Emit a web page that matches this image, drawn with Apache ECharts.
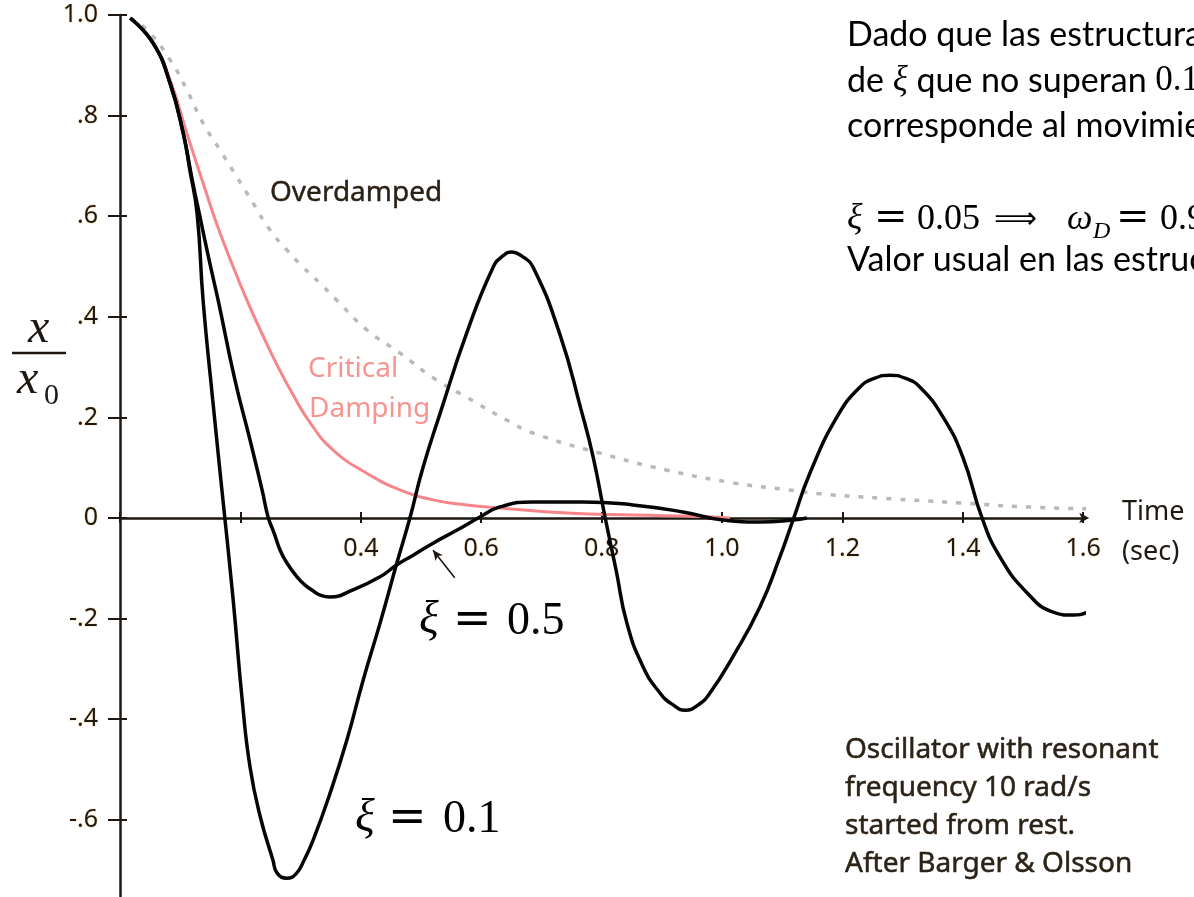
<!DOCTYPE html>
<html>
<head>
<meta charset="utf-8">
<title>Oscilador amortiguado</title>
<script src="https://cdn.jsdelivr.net/npm/echarts@6.0.0/dist/echarts.min.js"></script>
<style>
  html, body { margin: 0; padding: 0; background: #fff; }
  #chart { width: 1194px; height: 897px; }
</style>
</head>
<body>
<div id="chart"></div>
<script>
// curves as [time (s), x/x0]
const overdamped = [
  [0.017, 0.994], [0.045, 0.970], [0.083, 0.911], [0.111, 0.851], [0.138, 0.785],
  [0.166, 0.732], [0.194, 0.678], [0.221, 0.626], [0.249, 0.573], [0.277, 0.533],
  [0.304, 0.499], [0.332, 0.467], [0.360, 0.433], [0.410, 0.374], [0.465, 0.328],
  [0.520, 0.279], [0.576, 0.240], [0.642, 0.195], [0.686, 0.169], [0.797, 0.129],
  [0.909, 0.095], [1.018, 0.070], [1.110, 0.056], [1.163, 0.048], [1.284, 0.038],
  [1.395, 0.030], [1.507, 0.022], [1.611, 0.018]
];
const critical = [
  [0.017, 0.994], [0.055, 0.944], [0.085, 0.865], [0.111, 0.765], [0.138, 0.666],
  [0.166, 0.567], [0.208, 0.441], [0.233, 0.374], [0.261, 0.304], [0.287, 0.246],
  [0.316, 0.189], [0.354, 0.135], [0.410, 0.089], [0.465, 0.056], [0.520, 0.036],
  [0.576, 0.026], [0.631, 0.020], [0.743, 0.010], [0.852, 0.006], [0.963, 0.003],
  [1.013, 0.000]
];
const xi05 = [
  [0.017, 0.994], [0.055, 0.944], [0.083, 0.865], [0.105, 0.765], [0.121, 0.666],
  [0.133, 0.598], [0.148, 0.513], [0.163, 0.433], [0.191, 0.274], [0.216, 0.155],
  [0.236, 0.056], [0.246, 0.002], [0.256, -0.030], [0.266, -0.064], [0.277, -0.089],
  [0.294, -0.117], [0.307, -0.133], [0.321, -0.145], [0.332, -0.153], [0.349, -0.157],
  [0.387, -0.143], [0.432, -0.117], [0.460, -0.093], [0.487, -0.074], [0.520, -0.050],
  [0.560, -0.024], [0.598, 0.002], [0.631, 0.022], [0.686, 0.032], [0.769, 0.032],
  [0.852, 0.026], [0.935, 0.012], [1.002, -0.004], [1.063, -0.008], [1.118, -0.004],
  [1.141, 0.000]
];
const xi01 = [
  [0.017, 0.994], [0.055, 0.944], [0.083, 0.865], [0.105, 0.765], [0.116, 0.692],
  [0.128, 0.606], [0.138, 0.433], [0.154, 0.235], [0.171, 0.036], [0.188, -0.163],
  [0.203, -0.362], [0.216, -0.495], [0.233, -0.594], [0.254, -0.680], [0.261, -0.706],
  [0.277, -0.716], [0.292, -0.708], [0.306, -0.680], [0.321, -0.640], [0.349, -0.547],
  [0.377, -0.441], [0.404, -0.322], [0.432, -0.209], [0.460, -0.089], [0.482, 0.002],
  [0.502, 0.095], [0.532, 0.209], [0.576, 0.368], [0.620, 0.499], [0.636, 0.521],
  [0.651, 0.529], [0.667, 0.521], [0.686, 0.499], [0.731, 0.364], [0.766, 0.215],
  [0.786, 0.121], [0.806, 0.000], [0.824, -0.103], [0.842, -0.209], [0.869, -0.296],
  [0.897, -0.348], [0.917, -0.370], [0.939, -0.382], [0.960, -0.372], [0.980, -0.348],
  [1.018, -0.276], [1.063, -0.177], [1.096, -0.078], [1.118, -0.004], [1.146, 0.089],
  [1.191, 0.201], [1.229, 0.260], [1.254, 0.278], [1.279, 0.284], [1.304, 0.278],
  [1.329, 0.260], [1.367, 0.201], [1.400, 0.121], [1.432, 0.000], [1.462, -0.078],
  [1.507, -0.149], [1.550, -0.187], [1.583, -0.193], [1.608, -0.187], [1.633, -0.171],
  [1.656, -0.149]
];

// tick labels
const yTickValues = [-0.6, -0.4, -0.2, 0, 0.2, 0.4, 0.6, 0.8, 1.0];
const yTickText = ['-.6', '-.4', '-.2', '0', '.2', '.4', '.6', '.8', '1.0'];
const xHiddenLabels = [0, 0.2];

// little arrow pointing at the xi = 0.5 curve
const arrowFrom = [0.556, -0.119];
const arrowTo = [0.520, -0.064];

const ink = '#1d1813';
const halo = 'rgba(252, 222, 180, 0.7)';
const serif = '"Liberation Serif", "DejaVu Serif", serif';
const eqFont = '"DejaVu Serif", serif';
const sans = '"Noto Sans", "Open Sans", sans-serif';
const note = 'Lato, "Noto Sans", sans-serif';

// plot box: 1.0 sits at y=15, 0 at y=518
const gridTop = 15;
const gridHeight = 905.4;
const zeroY = 518;

const chart = echarts.init(document.getElementById('chart'));

function txt(text, x, y, font, fill, more) {
  return {
    type: 'text', x: x, y: y, silent: true,
    style: Object.assign({
      text: text, font: font, fill: fill || ink,
      align: 'left', textAlign: 'left', verticalAlign: 'middle', textVerticalAlign: 'middle'
    }, more || {})
  };
}

const axisLabelStyle = {
  fontFamily: sans, fontSize: 25, color: ink,
  textBorderColor: halo, textBorderWidth: 1.5
};

const lineBase = { type: 'line', showSymbol: false, smooth: 0.5, clip: false, silent: true };
const xOffset = zeroY - (gridTop + gridHeight);
const bold = { stroke: '#2b2218', lineWidth: 0.5 };

chart.setOption({
  animation: false,
  backgroundColor: '#fff',
  grid: { left: 120, top: gridTop, width: 963.2, height: gridHeight, containLabel: false, outerBoundsMode: 'none' },
  xAxis: [{
    type: 'value', position: 'bottom', offset: xOffset, min: 0, max: 1.6, interval: 0.2,
    axisLine: {
      onZero: false, lineStyle: { color: ink, width: 2.5 },
      symbol: ['none', 'arrow'], symbolSize: [8, 10], symbolOffset: [0, 6]
    },
    axisTick: { length: 5, lineStyle: { color: ink, width: 2 } },
    axisLabel: Object.assign({}, axisLabelStyle, {
      margin: 18,
      formatter: function (v) {
        return xHiddenLabels.some(function (h) { return Math.abs(h - v) < 1e-6; }) ? '' : v.toFixed(1);
      }
    }),
    splitLine: { show: false }
  }, {
    type: 'value', position: 'bottom', offset: xOffset, min: 0, max: 1.6, interval: 0.2,
    axisLine: { show: false, onZero: false },
    axisTick: { inside: true, length: 6, lineStyle: { color: ink, width: 2 } },
    axisLabel: { show: false },
    splitLine: { show: false }
  }],
  yAxis: [{
    type: 'value', position: 'left', min: -0.8, max: 1.0, interval: 0.2,
    axisLine: { show: true, onZero: false, lineStyle: { color: ink, width: 2.5 } },
    axisTick: { show: true, length: 12, lineStyle: { color: ink, width: 2 } },
    axisLabel: Object.assign({}, axisLabelStyle, {
      margin: 22,
      formatter: function (v) {
        const i = yTickValues.findIndex(function (t) { return Math.abs(t - v) < 1e-6; });
        return i < 0 ? '' : yTickText[i];
      }
    }),
    splitLine: { show: false }
  }, {
    type: 'value', position: 'left', min: -0.8, max: 1.0, interval: 0.2,
    axisLine: { show: false, onZero: false },
    axisTick: { show: true, inside: true, length: 7, lineStyle: { color: ink, width: 2 } },
    axisLabel: { show: false },
    splitLine: { show: false }
  }],
  series: [
    Object.assign({}, lineBase, {
      name: 'Overdamped', data: overdamped, z: 2,
      lineStyle: { color: '#b9b9b9', width: 3.5, type: [5, 9] }
    }),
    Object.assign({}, lineBase, {
      name: 'Critical Damping', data: critical, z: 3,
      lineStyle: { color: '#f6868a', width: 3 }
    }),
    Object.assign({}, lineBase, {
      name: 'ξ = 0.5', data: xi05, z: 4,
      lineStyle: { color: '#050505', width: 3.5 },
      markLine: {
        silent: true, symbol: ['none', 'arrow'], symbolSize: [7, 10],
        label: { show: false },
        lineStyle: { color: ink, width: 1.6, type: 'solid' },
        data: [[{ coord: arrowFrom }, { coord: arrowTo }]]
      }
    }),
    Object.assign({}, lineBase, {
      name: 'ξ = 0.1', data: xi01, z: 5,
      lineStyle: { color: '#050505', width: 3.5 }
    })
  ],
  graphic: [
    // x / x0 axis name
    txt('x', 28, 329, 'italic 48px ' + serif, ink),
    { type: 'line', silent: true, shape: { x1: 12, y1: 353, x2: 66, y2: 353 }, style: { stroke: ink, lineWidth: 2.5 } },
    txt('x', 17, 380, 'italic 48px ' + serif, ink),
    txt('0', 44, 396, '30px ' + serif, ink),

    // curve labels
    txt('Overdamped', 270, 193, '28px ' + sans, '#2a2016', { stroke: '#2a2016', lineWidth: 0.4 }),
    txt('Critical', 308, 369, '28px ' + sans, '#f7948f'),
    txt('Damping', 309, 409, '28px ' + sans, '#f7948f'),
    txt('ξ', 419, 621, 'italic 46px ' + serif, '#000'),
    txt('=', 453, 621, '46px ' + eqFont, '#000'),
    txt('0.5', 507, 622, '46px ' + serif, '#000'),
    txt('ξ', 355, 819, 'italic 46px ' + serif, '#000'),
    txt('=', 388, 819, '46px ' + eqFont, '#000'),
    txt('0.1', 443, 820, '46px ' + serif, '#000'),

    // axis end labels
    txt('Time', 1122, 512, '27px ' + sans, ink),
    txt('(sec)', 1122, 552, '27px ' + sans, ink),

    // notes on the right
    txt('Dado que las estructuras', 847, 35, '34px ' + note, '#000'),
    txt('{t|de }{m|ξ}{t| que no superan }{n|0.1}', 847, 81, '34px ' + note, '#000', {
      rich: {
        t: { fontFamily: note, fontSize: 34 },
        m: { fontFamily: serif, fontStyle: 'italic', fontSize: 35 },
        n: { fontFamily: serif, fontSize: 35 }
      }
    }),
    txt('corresponde al movimiento', 847, 126, '34px ' + note, '#000'),
    txt('ξ', 847, 219, 'italic 36px ' + serif, '#000'),
    txt('=', 874, 219, '40px ' + eqFont, '#000'),
    txt('0.05', 917, 220, '36px ' + serif, '#000'),
    txt('⟹', 994, 220, '30px "DejaVu Sans"', '#000'),
    txt('ω', 1067, 220, 'italic 36px ' + serif, '#000'),
    txt('D', 1093, 232, 'italic 24px ' + serif, '#000'),
    txt('=', 1116, 219, '40px ' + eqFont, '#000'),
    txt('0.9987', 1160, 220, '36px ' + serif, '#000'),
    txt('Valor usual en las estructuras', 847, 260, '34px ' + note, '#000'),

    // figure credit
    txt('Oscillator with resonant', 845, 750, '28px ' + sans, '#2b2218', bold),
    txt('frequency 10 rad/s', 845, 788, '28px ' + sans, '#2b2218', bold),
    txt('started from rest.', 845, 826, '28px ' + sans, '#2b2218', bold),
    txt('After Barger & Olsson', 845, 864, '28px ' + sans, '#2b2218', bold)
  ]
});
</script>
</body>
</html>
